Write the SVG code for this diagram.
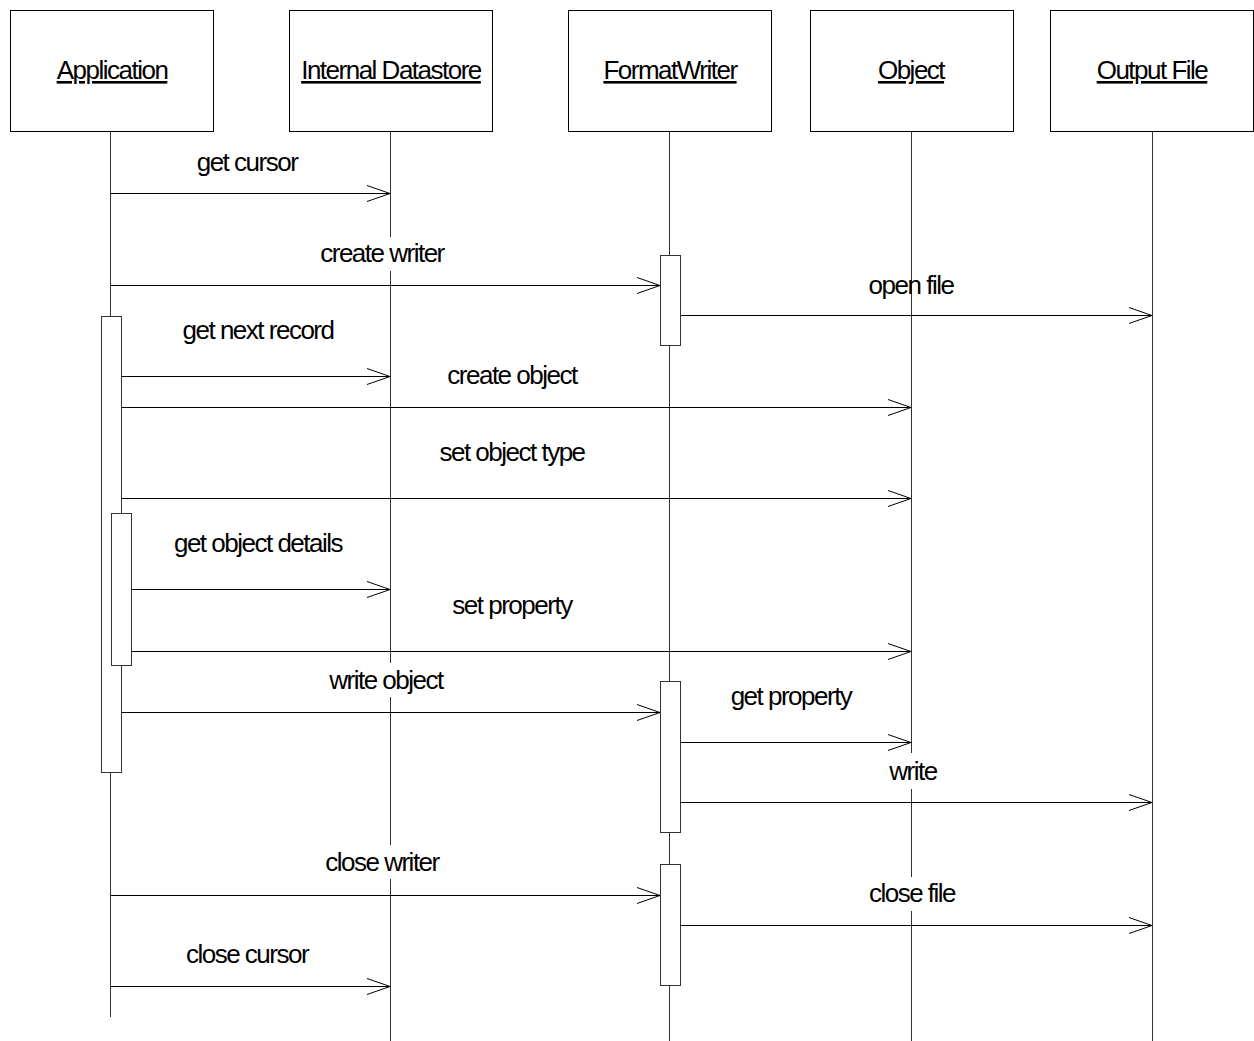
<svg xmlns="http://www.w3.org/2000/svg" width="1254" height="1041" viewBox="0 0 1254 1041">
<defs>
<style>
text{font-family:"Liberation Sans",Arial,sans-serif;font-size:26px;letter-spacing:-1.5px;fill:#000}
.hdr{text-anchor:middle;text-decoration:underline}
.lbl{text-anchor:middle}
.box{fill:#fff;stroke:#000;stroke-width:1}
.life{stroke:#333;stroke-width:1;fill:none}
.bg{fill:#fff;stroke:none}
.msg{stroke:#000;stroke-width:1;fill:none;marker-end:url(#arr)}
.act{fill:#fff;stroke:#333;stroke-width:1}
</style>
<marker id="arr" markerUnits="userSpaceOnUse" markerWidth="30" markerHeight="20" refX="0" refY="0" viewBox="-25 -10 30 20" orient="auto" overflow="visible">
<path d="M-23,-8 L0,0 L-23,8" fill="none" stroke="#000" stroke-width="1"/>
</marker>
</defs>
<rect width="1254" height="1041" fill="#fff"/>
<g id="lifelines">
<line class="life" x1="110.5" y1="131" x2="110.5" y2="1017"/>
<line class="life" x1="390.5" y1="131" x2="390.5" y2="1041"/>
<line class="life" x1="669.5" y1="131" x2="669.5" y2="1041"/>
<line class="life" x1="911.5" y1="131" x2="911.5" y2="1041"/>
<line class="life" x1="1152.5" y1="131" x2="1152.5" y2="1041"/>
</g>
<g id="node-application"><rect class="box" x="10.5" y="10.5" width="203" height="121"/><text class="hdr" x="112" y="79">Application</text></g>
<g id="node-internal-datastore"><rect class="box" x="289.5" y="10.5" width="203" height="121"/><text class="hdr" x="391" y="79">Internal Datastore</text></g>
<g id="node-formatwriter"><rect class="box" x="568.5" y="10.5" width="203" height="121"/><text class="hdr" x="670" y="79">FormatWriter</text></g>
<g id="node-object"><rect class="box" x="810.5" y="10.5" width="203" height="121"/><text class="hdr" x="911" y="79">Object</text></g>
<g id="node-output-file"><rect class="box" x="1050.5" y="10.5" width="203" height="121"/><text class="hdr" x="1152" y="79">Output File</text></g>
<g id="activations">
<rect class="act" x="660.5" y="255.5" width="20" height="90"/>
<rect class="act" x="101.5" y="316.5" width="20" height="456"/>
<rect class="act" x="111.5" y="513.5" width="20" height="152"/>
<rect class="act" x="660.5" y="681.5" width="20" height="151"/>
<rect class="act" x="660.5" y="864.5" width="20" height="121"/>
</g>
<g id="connectors">
<line class="msg" x1="111" y1="193.5" x2="390" y2="193.5"/>
<line class="msg" x1="111" y1="285.5" x2="660" y2="285.5"/>
<line class="msg" x1="681" y1="315.5" x2="1152" y2="315.5"/>
<line class="msg" x1="122" y1="376.5" x2="390" y2="376.5"/>
<line class="msg" x1="122" y1="407.5" x2="911" y2="407.5"/>
<line class="msg" x1="122" y1="498.5" x2="911" y2="498.5"/>
<line class="msg" x1="132" y1="589.5" x2="390" y2="589.5"/>
<line class="msg" x1="132" y1="651.5" x2="911" y2="651.5"/>
<line class="msg" x1="122" y1="712.5" x2="660" y2="712.5"/>
<line class="msg" x1="681" y1="742.5" x2="911" y2="742.5"/>
<line class="msg" x1="681" y1="802.5" x2="1152" y2="802.5"/>
<line class="msg" x1="111" y1="895.5" x2="660" y2="895.5"/>
<line class="msg" x1="681" y1="925.5" x2="1152" y2="925.5"/>
<line class="msg" x1="111" y1="986.5" x2="390" y2="986.5"/>
</g>
<g id="labels">
<text class="lbl" x="247" y="171">get cursor</text>
<rect class="bg" x="317" y="237" width="130" height="34"/>
<text class="lbl" x="382" y="262">create writer</text>
<text class="lbl" x="911" y="294">open file</text>
<text class="lbl" x="258" y="339">get next record</text>
<text class="lbl" x="512" y="384">create object</text>
<text class="lbl" x="512" y="461">set object type</text>
<text class="lbl" x="258" y="552">get object details</text>
<text class="lbl" x="512" y="614">set property</text>
<rect class="bg" x="326" y="663" width="121" height="34"/>
<text class="lbl" x="386" y="689">write object</text>
<text class="lbl" x="791" y="705">get property</text>
<rect class="bg" x="886" y="753" width="54" height="36"/>
<text class="lbl" x="913" y="780">write</text>
<rect class="bg" x="322" y="845" width="120" height="34"/>
<text class="lbl" x="382" y="871">close writer</text>
<rect class="bg" x="864" y="877" width="96" height="34"/>
<text class="lbl" x="912" y="902">close file</text>
<text class="lbl" x="247" y="963">close cursor</text>
</g>
</svg>
